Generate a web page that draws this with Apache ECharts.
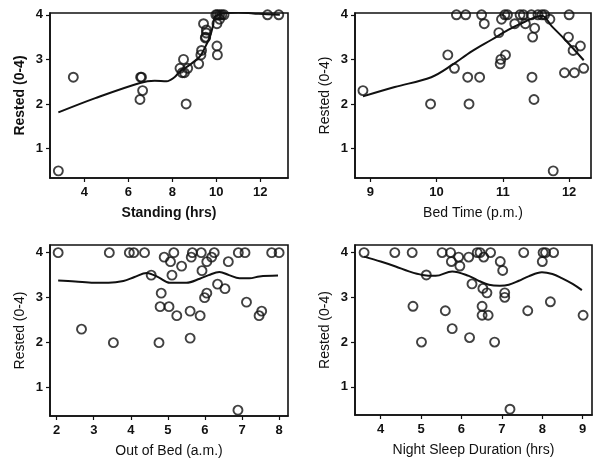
<!DOCTYPE html>
<html><head><meta charset="utf-8">
<script src="https://cdn.jsdelivr.net/npm/echarts@6/dist/echarts.min.js"></script>
<style>html,body{margin:0;padding:0;background:#fff}#c{width:595px;height:462px}</style>
</head><body><div id="c"></div>
<script>
// Panel 1: Standing (hrs)
const standingX = [2.82,3.5,6.56,6.6,6.65,6.53,8.63,8.51,8.35,8.45,8.55,8.7,9.2,9.33,9.3,9.42,9.55,9.55,9.52,9.5,10.03,10.05,9.98,10.05,10.15,10.25,10.35,10.03,10.15,12.33,12.84];
const standingY = [0.5,2.6,2.6,2.6,2.3,2.1,2.0,3.0,2.8,2.7,2.7,2.8,2.9,3.2,3.1,3.8,3.66,3.59,3.5,3.48,3.3,3.1,4.0,4.0,4.0,4.0,4.0,3.8,3.9,4.0,4.0];
const standingCurveX = [2.82,4.5,6.53,7.2,7.74,8.1,8.35,8.8,9.26,9.5,9.71,9.85,9.94,10.2,10.47,11.0,11.68,12.3,12.89];
const standingCurveY = [1.81,2.13,2.47,2.52,2.51,2.6,2.73,2.88,3.07,3.28,3.51,3.75,3.96,4.02,4.04,4.05,4.03,4.01,4.0];

// Panel 2: Bed Time (p.m.)
const bedX = [8.89,9.91,10.17,10.27,10.3,10.44,10.47,10.49,10.65,10.68,10.72,10.94,10.97,10.96,11.04,10.98,11.03,11.07,11.18,11.26,11.31,11.34,11.43,11.44,11.45,11.48,11.47,11.53,11.59,11.63,11.71,11.76,11.93,11.99,12.0,12.06,12.08,12.17,12.22];
const bedY = [2.3,2.0,3.1,2.8,4.0,4.0,2.6,2.0,2.6,4.0,3.8,3.6,3.0,2.9,3.1,3.9,4.0,4.0,3.8,4.0,4.0,3.8,4.0,2.6,3.5,3.7,2.1,4.0,4.0,4.0,3.9,0.5,2.7,3.5,4.0,3.2,2.7,3.3,2.8];
const bedCurveX = [8.89,9.37,9.92,10.23,10.53,10.83,11.08,11.34,11.59,11.74,11.94,12.22];
const bedCurveY = [2.17,2.38,2.6,2.87,3.18,3.44,3.66,3.85,3.98,3.74,3.44,2.98];

// Panel 3: Out of Bed (a.m.)
const outX = [2.04,2.67,3.42,3.53,3.96,4.08,4.37,4.55,4.76,4.79,4.82,4.9,5.03,5.07,5.11,5.16,5.24,5.37,5.6,5.6,5.63,5.66,5.87,5.9,5.92,5.99,6.05,6.05,6.18,6.25,6.34,6.54,6.63,6.89,6.9,7.08,7.12,7.46,7.53,7.8,8.0];
const outY = [4.0,2.3,4.0,2.0,4.0,4.0,4.0,3.5,2.0,2.8,3.1,3.9,2.8,3.8,3.5,4.0,2.6,3.7,2.1,2.7,3.9,4.0,2.6,4.0,3.6,3.0,3.1,3.8,3.9,4.0,3.3,3.2,3.8,0.5,4.0,4.0,2.9,2.6,2.7,4.0,4.0];
const outCurveX = [2.04,2.5,3.0,3.4,3.8,4.1,4.43,4.75,5.05,5.5,5.86,6.1,6.39,6.65,6.93,7.2,7.47,7.97];
const outCurveY = [3.38,3.36,3.33,3.33,3.37,3.46,3.55,3.45,3.33,3.33,3.42,3.5,3.57,3.5,3.43,3.43,3.47,3.49];

// Panel 4: Night Sleep Duration (hrs)
const sleepX = [3.59,4.35,4.78,4.8,5.01,5.13,5.52,5.6,5.73,5.75,5.77,5.93,5.96,6.18,6.2,6.26,6.39,6.46,6.53,6.51,6.51,6.55,6.63,6.66,6.72,6.82,6.96,7.02,7.07,7.07,7.2,7.54,7.64,8.0,8.02,8.08,8.2,8.28,9.01];
const sleepY = [4.0,4.0,4.0,2.8,2.0,3.5,4.0,2.7,4.0,3.8,2.3,3.9,3.7,3.9,2.1,3.3,4.0,4.0,3.2,2.8,2.6,3.9,3.1,2.6,4.0,2.0,3.8,3.6,3.1,3.0,0.5,4.0,2.7,3.8,4.0,4.0,2.9,4.0,2.6];
const sleepCurveX = [3.59,4.0,4.37,4.7,5.03,5.36,5.77,6.18,6.45,6.68,6.95,7.17,7.42,7.66,7.99,8.25,8.48,8.75,8.98];
const sleepCurveY = [3.91,3.8,3.69,3.58,3.5,3.48,3.58,3.48,3.36,3.28,3.26,3.28,3.37,3.47,3.56,3.52,3.43,3.3,3.16];

const xTicks1 = [4,6,8,10,12];
const xTicks2 = [9,10,11,12];
const xTicks3 = [2,3,4,5,6,7,8];
const xTicks4 = [4,5,6,7,8,9];
const yTicks = [1,2,3,4];
const yTitle = 'Rested (0-4)';
const xTitles = ['Standing (hrs)','Bed Time (p.m.)','Out of Bed (a.m.)','Night Sleep Duration (hrs)'];

const FONT = '"Liberation Sans", Arial, sans-serif';
const grids = [
  {left:50, top:13, width:238, height:165},
  {left:355, top:13, width:236, height:165},
  {left:50, top:245, width:238, height:171},
  {left:355, top:245, width:237, height:170}
];
const xr = [[2.44,13.26],[8.77,12.33],[1.82,8.24],[3.365,9.23]];
const yr = [[0.34,4.04],[0.34,4.04],[0.37,4.17],[0.37,4.17]];
const xt = [xTicks1,xTicks2,xTicks3,xTicks4];
const bold = [true,false,false,false];

const option = {
  animation:false,
  backgroundColor:'#fff',
  grid: grids.map(g=>Object.assign({show:true, borderColor:'#111', borderWidth:1.6, backgroundColor:'transparent'}, g)),
  xAxis: [0,1,2,3].map(i=>({
    type:'value', gridIndex:i, min:xr[i][0], max:xr[i][1],
    name:xTitles[i], nameLocation:'middle', nameGap:28,
    nameTextStyle:{fontFamily:FONT, fontSize:14, color:'#111', fontWeight: bold[i]?'bold':'normal'},
    axisLine:{show:true, lineStyle:{color:'#111', width:1.6}},
    axisTick:{show:true, length:4, lineStyle:{color:'#111', width:1.2}, customValues:xt[i]},
    axisLabel:{fontFamily:FONT, fontSize:13, color:'#111', fontWeight:'bold', margin:8, customValues:xt[i]},
    splitLine:{show:false}
  })),
  yAxis: [0,1,2,3].map(i=>({
    type:'value', gridIndex:i, min:yr[i][0], max:yr[i][1],
    name:yTitle, nameLocation:'middle', nameGap:23,
    nameTextStyle:{fontFamily:FONT, fontSize:14, color:'#111', fontWeight: bold[i]?'bold':'normal'},
    axisLine:{show:true, lineStyle:{color:'#111', width:1.6}},
    axisTick:{show:true, length:4, lineStyle:{color:'#111', width:1.2}, customValues:yTicks},
    axisLabel:{fontFamily:FONT, fontSize:13, color:'#111', fontWeight:'bold', margin:7, customValues:yTicks},
    splitLine:{show:false}
  })),
  series: []
};
const pts = [[standingX,standingY],[bedX,bedY],[outX,outY],[sleepX,sleepY]];
const crv = [[standingCurveX,standingCurveY],[bedCurveX,bedCurveY],[outCurveX,outCurveY],[sleepCurveX,sleepCurveY]];
for (let i=0;i<4;i++){
  option.series.push({
    type:'scatter', xAxisIndex:i, yAxisIndex:i, symbol:'circle', symbolSize:9,
    itemStyle:{color:'rgba(255,255,255,0)', borderColor:'#111', borderWidth:1.9},
    data: pts[i][0].map((x,k)=>[x, pts[i][1][k]])
  });
  option.series.push({
    type:'line', xAxisIndex:i, yAxisIndex:i, showSymbol:false, smooth:0.35,
    lineStyle:{color:'#111', width:2},
    data: crv[i][0].map((x,k)=>[x, crv[i][1][k]])
  });
}
const chart = echarts.init(document.getElementById('c'), null, {renderer:'canvas'});
chart.setOption(option);
</script></body></html>
